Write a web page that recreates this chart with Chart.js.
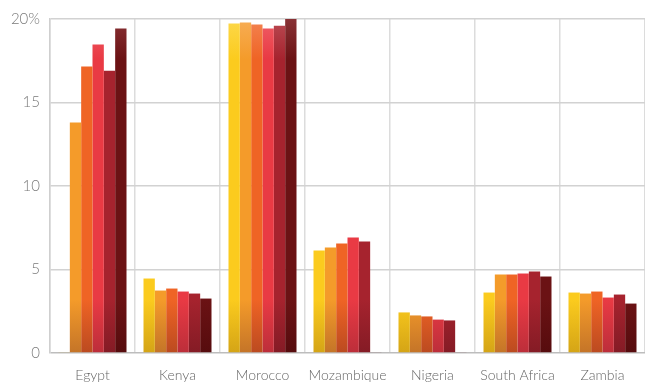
<!DOCTYPE html>
<html>
<head>
<meta charset="utf-8">
<script src="https://cdn.jsdelivr.net/npm/chart.js@4"></script>
<style>
  html, body { margin: 0; padding: 0; background: #fff; overflow: hidden; }
  #wrap { position: relative; width: 645px; height: 383px; }
</style>
</head>
<body>
<div id="wrap"><canvas id="shares"></canvas></div>
<script>
// Countries along the bottom axis
const countries = ["Egypt", "Kenya", "Morocco", "Mozambique", "Nigeria", "South Africa", "Zambia"];

// One series per year, values in percent
const series1 = [0.05, 4.46, 19.73, 6.14, 2.43, 3.62, 3.62];
const series2 = [13.8, 3.74, 19.79, 6.32, 2.25, 4.70, 3.56];
const series3 = [17.15, 3.86, 19.67, 6.56, 2.19, 4.70, 3.68];
const series4 = [18.47, 3.68, 19.43, 6.92, 2.00, 4.76, 3.32];
const series5 = [16.9, 3.56, 19.60, 6.68, 1.95, 4.88, 3.50];
const series6 = [19.43, 3.26, 20.0, 0.05, 0.05, 4.58, 2.96];

const yTicks = [0, 5, 10, 15, 20];

const palette = [
  ["#fdd84a", "#fbcb1e", "#d4a416"],
  ["#f7ad55", "#f49b2a", "#c47428"],
  ["#f38351", "#ef6425", "#bb4a20"],
  ["#ef5d66", "#e93a44", "#bc2e3a"],
  ["#b94a52", "#a6232e", "#841b25"],
  ["#883134", "#6b1214", "#560c0e"],
];

// vertical shading: a bit lighter at the top, darker near the base
function shade(idx) {
  return function (ctx) {
    const area = ctx.chart.chartArea;
    if (!area) return palette[idx][1];
    const g = ctx.chart.ctx.createLinearGradient(0, area.top, 0, area.bottom);
    g.addColorStop(0, palette[idx][0]);
    g.addColorStop(0.12, palette[idx][1]);
    g.addColorStop(0.84, palette[idx][1]);
    g.addColorStop(1, palette[idx][2]);
    return g;
  };
}

const allSeries = [series1, series2, series3, series4, series5, series6];

new Chart("shares", {
  type: "bar",
  data: {
    labels: countries,
    datasets: allSeries.map(function (vals, i) {
      return {
        data: vals,
        backgroundColor: shade(i),
        borderWidth: 0,
        categoryPercentage: 0.8,
        barPercentage: 1.0,
      };
    }),
  },
  options: {
    animation: false,
    responsive: true,
    maintainAspectRatio: false,
    layout: { padding: { top: 19, right: 0, bottom: 0, left: 0 } },
    plugins: { legend: { display: false }, tooltip: { enabled: false } },
    scales: {
      x: {
        afterFit: function (axis) { axis.height = 30; },
        grid: { offset: true, color: "#dcdcdc", lineWidth: 1.5, drawTicks: false },
        border: { display: false },
        ticks: {
          color: "#666666",
          padding: 14,
          maxRotation: 0,
          font: { family: "Lato", size: 14, weight: 300 },
        },
      },
      y: {
        min: 0,
        max: 20,
        afterBuildTicks: function (axis) {
          axis.ticks = yTicks.map(function (v) { return { value: v }; });
        },
        afterFit: function (axis) { axis.width = 50; },
        grid: {
          drawTicks: false,
          lineWidth: 1.5,
          color: function (ctx) { return ctx.tick && ctx.tick.value === 0 ? "#bdbdbd" : "#d2d2d2"; },
        },
        border: { display: true, color: "#cfcfcf", width: 1.5 },
        ticks: {
          color: "#7a7a7a",
          padding: 10,
          font: { family: "Lato", size: 15, weight: 300 },
          callback: function (v) { return v === 20 ? "20%" : String(v); },
        },
      },
    },
  },
});
</script>
</body>
</html>
